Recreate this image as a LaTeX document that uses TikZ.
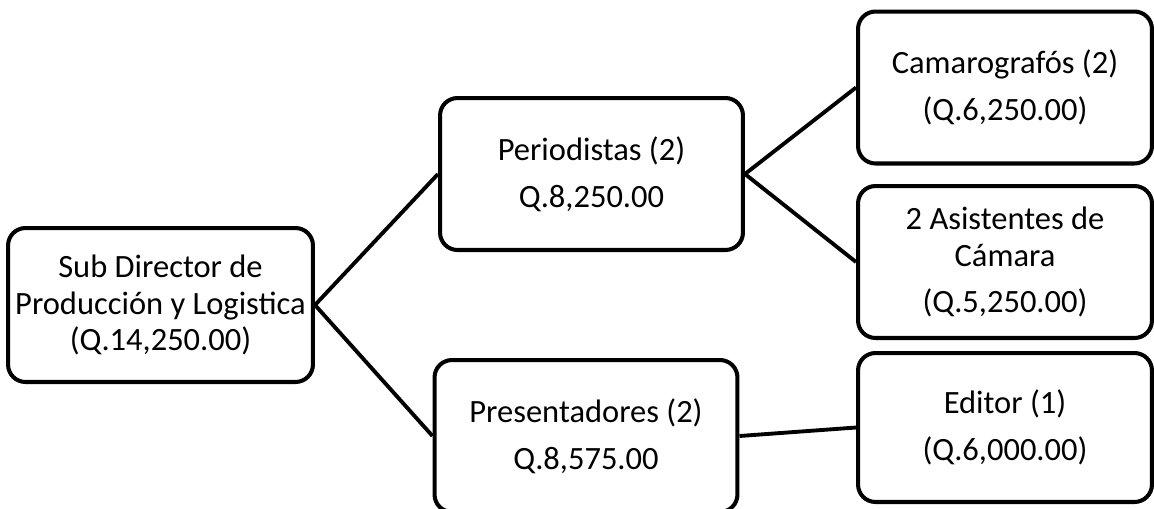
\documentclass[tikz,border=0pt]{standalone}
\usepackage{fontspec}
\setmainfont{Carlito}
\usepackage{tikz}
\usetikzlibrary{positioning}
\tikzset{
    org box/.style={
        draw,line width=2.3pt,rounded corners=.35cm,
        fill=white,align=center,
        minimum width=6.06cm,minimum height=3.04cm,
        font=\fontsize{18.5}{20.8}\selectfont
    },
    link/.style={line width=2.2pt}
}

\begin{document}
\begin{tikzpicture}[x=0.02cm,y=-0.02cm]
\useasboundingbox (0,0) rectangle (1154,508);
\node[org box,minimum width=6.1cm,minimum height=3.08cm] (root) at (160.5,305) {Sub Director de\\Producción y Logistica\\(Q.14,250.00)};
\node[org box] (peri) at (591.5,174) {Periodistas (2)\\[.2cm]Q.8,250.00};
\node[org box] (pres) at (586,436) {Presentadores (2)\\[.2cm]Q.8,575.00};
\node[org box,minimum width=5.88cm] (cam) at (1005,87.5) {Camarografós (2)\\[.2cm](Q.6,250.00)};
\node[org box,minimum width=5.88cm] (asis) at (1005,262) {2 Asistentes de\\Cámara\\[.2cm](Q.5,250.00)};
\node[org box,minimum width=5.88cm,minimum height=2.98cm] (edit) at (1005,427.5) {Editor (1)\\[.2cm](Q.6,000.00)};
\foreach \a/\b in {root/peri,root/pres,peri/cam,peri/asis,pres/edit}
    \draw[link] (\a.east) -- (\b.west);
\end{tikzpicture}
\end{document}
